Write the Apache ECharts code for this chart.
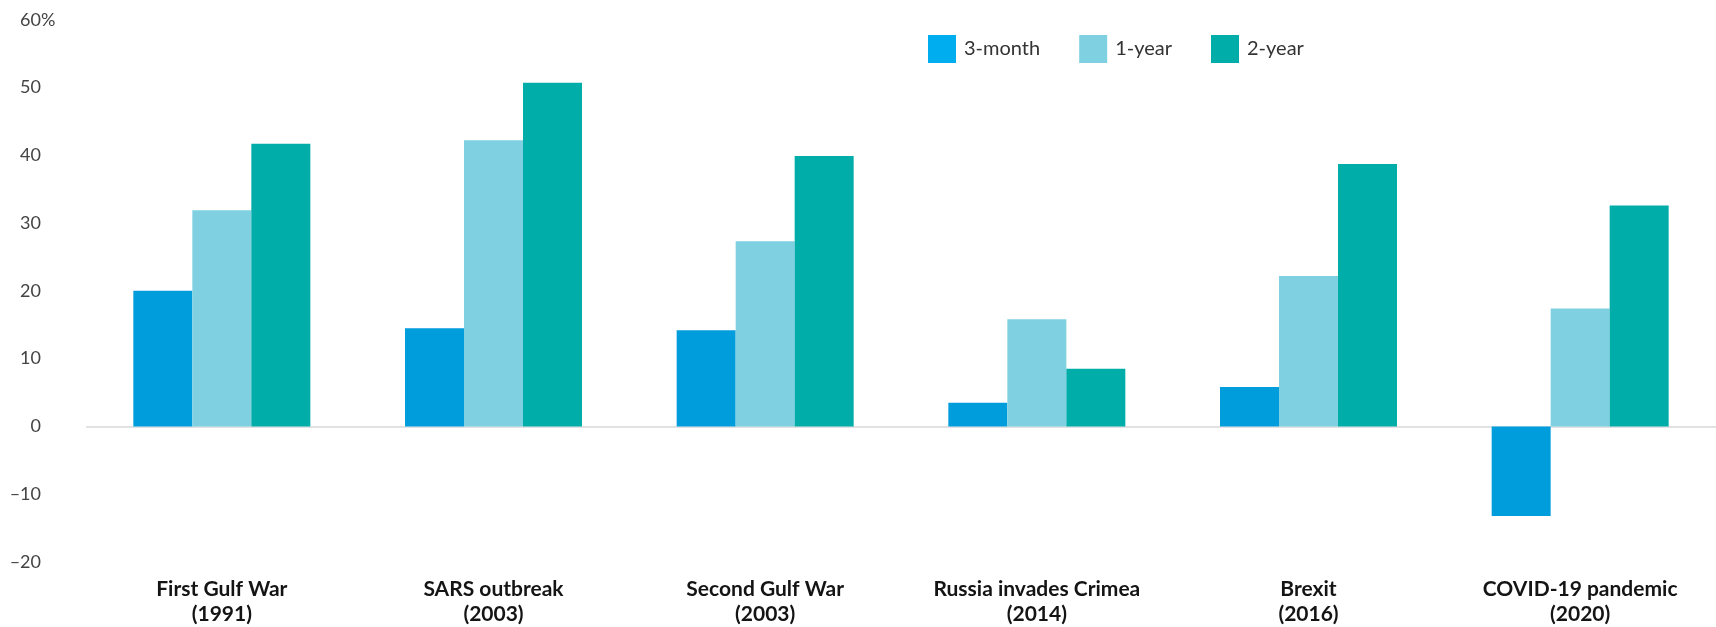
<!DOCTYPE html>
<html>
<head>
<meta charset="utf-8">
<script src="https://cdn.jsdelivr.net/npm/echarts@6/dist/echarts.min.js"></script>
<style>
html,body{margin:0;padding:0;background:#fff;}
#chart{width:1716px;height:627px;}
</style>
</head>
<body>
<div id="chart"></div>
<script>
const categories = [
  'First Gulf War\n(1991)',
  'SARS outbreak\n(2003)',
  'Second Gulf War\n(2003)',
  'Russia invades Crimea\n(2014)',
  'Brexit\n(2016)',
  'COVID-19 pandemic\n(2020)'
];
const seriesNames = ['3-month', '1-year', '2-year'];
const threeMonth = [20.0, 14.5, 14.2, 3.5, 5.8, -13.2];
const oneYear = [31.9, 42.2, 27.3, 15.8, 22.2, 17.4];
const twoYear = [41.7, 50.7, 39.9, 8.5, 38.7, 32.6];
const yTicks = { min: -20, max: 60, interval: 10 };

const colors = ['#009ddc', '#7fd1e2', '#00ada9'];
const legendColors = ['#00aeef', '#7fd1e2', '#00ada9'];

const chart = echarts.init(document.getElementById('chart'), null, { renderer: 'canvas' });
const mk = (name, data, i) => ({
  name: name,
  type: 'bar',
  data: data,
  barWidth: 59,
  barGap: '0%',
  itemStyle: { color: colors[i] },
  emphasis: { disabled: true },
  z: 3
});
const series = [
  mk(seriesNames[0], threeMonth, 0),
  mk(seriesNames[1], oneYear, 1),
  mk(seriesNames[2], twoYear, 2)
];
series[0].markLine = {
  silent: true,
  symbol: 'none',
  label: { show: false },
  lineStyle: { color: '#e2e2e2', width: 2, type: 'solid' },
  data: [{ yAxis: 0 }],
  z: 1
};
const fmtNum = v => (v < 0 ? '\u2013' + Math.abs(v) : String(v));
chart.setOption({
  animation: false,
  backgroundColor: '#ffffff',
  grid: { left: 86, right: 0, top: 19.7, bottom: 64.5, containLabel: false },
  legend: {
    left: 923,
    top: 30,
    itemWidth: 28,
    itemHeight: 28,
    itemGap: 39,
    icon: 'rect',
    textStyle: { fontFamily: 'Lato', fontSize: 20, color: '#333333', padding: [0, 0, 0, 3] },
    data: seriesNames.map((n, i) => ({ name: n, itemStyle: { color: legendColors[i] } }))
  },
  xAxis: {
    type: 'category',
    data: categories,
    axisLine: { show: false },
    axisTick: { show: false },
    splitLine: { show: false },
    axisLabel: {
      margin: 15,
      interval: 0,
      fontFamily: 'Lato',
      fontWeight: 'bold',
      fontSize: 21,
      lineHeight: 25,
      color: '#141414',
      align: 'center'
    }
  },
  yAxis: {
    type: 'value',
    min: yTicks.min,
    max: yTicks.max,
    interval: yTicks.interval,
    axisLine: { show: false },
    axisTick: { show: false },
    splitLine: { show: false },
    axisLabel: {
      align: 'left',
      margin: 72,
      fontFamily: 'Lato',
      fontSize: 18,
      color: '#444444',
      formatter: v => v === yTicks.max ? '{q|' + v + '%}' : '{n|' + fmtNum(v) + '}',
      rich: {
        n: { width: 27, align: 'right', fontFamily: 'Lato', fontSize: 18, color: '#444444' },
        q: { padding: [0, 0, 0, 6], fontFamily: 'Lato', fontSize: 18, color: '#444444' }
      }
    }
  },
  series: series
});
</script>
</body>
</html>
